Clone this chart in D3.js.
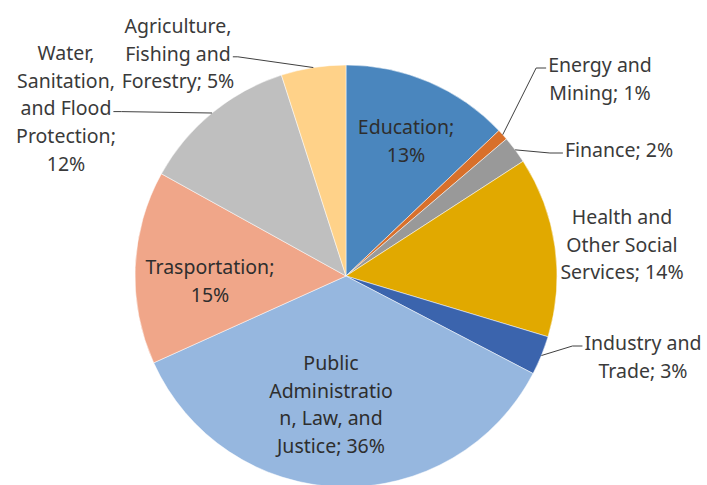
<!DOCTYPE html>
<html>
<head>
<meta charset="utf-8">
<script src="https://cdn.jsdelivr.net/npm/d3@7/dist/d3.min.js"></script>
<style>
  html, body { margin: 0; padding: 0; background: #fff; }
  svg { display: block; }
  text { font-family: "Noto Sans", "Open Sans", sans-serif; }
</style>
</head>
<body>
<svg id="chart" width="707" height="485"></svg>
<script>
// ---- data ----
const categories = [
  "Education", "Energy and Mining", "Finance", "Health and Other Social Services",
  "Industry and Trade", "Public Administration, Law, and Justice", "Trasportation",
  "Water, Sanitation, and Flood Protection", "Agriculture, Fishing and Forestry"
];
const values = [12.9, 0.85, 2.1, 13.8, 3.0, 35.6, 14.8, 12.0, 4.95];
const labelLines = [
  ["Education;"],
  ["Energy and", "Mining;"],
  ["Finance;"],
  ["Health and", "Other Social", "Services;"],
  ["Industry and", "Trade;"],
  ["Public", "Administratio", "n, Law, and", "Justice;"],
  ["Trasportation;"],
  ["Water,", "Sanitation,", "and Flood", "Protection;"],
  ["Agriculture,", "Fishing and", "Forestry;"]
];
const colors = ["#4a86be", "#d8702b", "#999999", "#e1a900", "#3b64ad",
                "#96b7df", "#f0a689", "#bfbfbf", "#ffd289"];

// ---- layout (label placement) ----
const cx = 346, cy = 276, R = 211;
const labelLayout = [
  {x: 406, y: 127, pctNewLine: true,  leader: null},
  {x: 600, y: 65,  pctNewLine: false, leader: {side: "left", elbowDx: -10}},
  {x: 619, y: 150, pctNewLine: false, leader: {side: "left", elbowDx: -13}},
  {x: 622, y: 217, pctNewLine: false, leader: null},
  {x: 643, y: 343, pctNewLine: false, leader: {side: "left", elbowDx: -10}},
  {x: 331, y: 363, pctNewLine: false, leader: null},
  {x: 210, y: 267, pctNewLine: true,  leader: null},
  {x: 66,  y: 53,  pctNewLine: true,  leader: {side: "right", elbowDx: 8, line: 2}},
  {x: 178, y: 26,  pctNewLine: false, leader: {side: "right", elbowDx: 5, line: 1}}
];
const lineH = 27.8;

const svg = d3.select("#chart");
const total = d3.sum(values);
const pie = d3.pie().value(d => d).sort(null);
const arcs = pie(values);
const arcGen = d3.arc().innerRadius(0).outerRadius(R);

const g = svg.append("g").attr("transform", `translate(${cx},${cy})`);
g.selectAll("path.slice")
  .data(arcs)
  .enter().append("path")
  .attr("class", "slice")
  .attr("d", arcGen)
  .attr("fill", (d, i) => colors[i])
  .attr("stroke", "#ffffff")
  .attr("stroke-width", 0.5);

const fmt = v => Math.round(v / total * 100) + "%";

arcs.forEach((a, i) => {
  const L = labelLayout[i];
  const lines = labelLines[i].slice();
  const pct = fmt(values[i]);
  if (L.pctNewLine) lines.push(pct);
  else lines[lines.length - 1] = lines[lines.length - 1] + " " + pct;

  const t = svg.append("text")
    .attr("text-anchor", "middle")
    .attr("font-size", 19.5)
    .attr("fill", L.leader || i === 3 ? "#3a3a3a" : "#2e2e2e");
  lines.forEach((ln, k) => {
    t.append("tspan")
      .attr("x", L.x)
      .attr("y", L.y + k * lineH)
      .attr("dy", "0.35em")
      .text(ln);
  });

  if (L.leader) {
    const mid = (a.startAngle + a.endAngle) / 2;
    const px = cx + R * Math.sin(mid);
    const py = cy - R * Math.cos(mid);
    const li = L.leader.line !== undefined ? L.leader.line : 0;
    const tsp = t.selectAll("tspan").nodes()[li];
    const w = tsp.getComputedTextLength();
    const ly = L.y + li * lineH + 3;
    const sx = L.leader.side === "left" ? L.x - w / 2 - 2 : L.x + w / 2 + 2;
    const ex = sx + L.leader.elbowDx;
    svg.append("path")
      .attr("d", d3.line()([[sx, ly], [ex, ly], [px, py]]))
      .attr("fill", "none")
      .attr("stroke", "#404040")
      .attr("stroke-width", 1);
  }
});
</script>
</body>
</html>
